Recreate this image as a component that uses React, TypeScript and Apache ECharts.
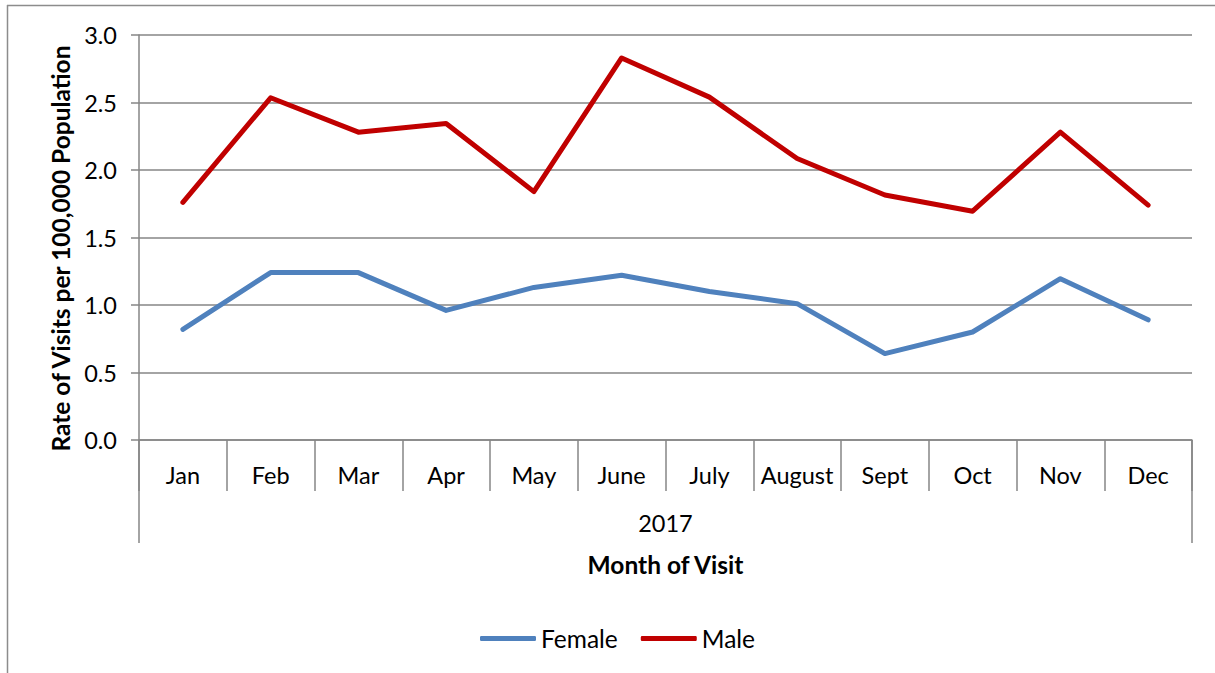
import React, { useEffect, useRef } from "react";
import * as echarts from "echarts";

const months = ["Jan", "Feb", "Mar", "Apr", "May", "June", "July", "August", "Sept", "Oct", "Nov", "Dec"];
const yearLabel = ["2017"];
const female = [0.82, 1.24, 1.24, 0.96, 1.13, 1.22, 1.10, 1.01, 0.64, 0.80, 1.195, 0.89];
const male = [1.76, 2.535, 2.28, 2.345, 1.84, 2.83, 2.54, 2.085, 1.815, 1.695, 2.28, 1.74];

const FONT = "Lato, 'Open Sans', sans-serif";
const GRAY = "#868686";
const LABEL_SIZE = 23.5;
const NAME_SIZE = 24.5;

export default function App() {
  const ref = useRef<HTMLDivElement>(null);
  useEffect(() => {
    document.body.style.margin = "0";
    const chart = echarts.init(ref.current!, null, { renderer: "svg" });
    chart.setOption({
      animation: false,
      backgroundColor: "#ffffff",
      textStyle: { fontFamily: FONT, color: "#000" },
      graphic: [
        { type: "line", shape: { x1: 7, y1: 5.5, x2: 1215, y2: 5.5 }, style: { stroke: "#8c8c8c", lineWidth: 1.5 } },
        { type: "line", shape: { x1: 7.5, y1: 5, x2: 7.5, y2: 673 }, style: { stroke: "#8c8c8c", lineWidth: 1.5 } },
      ],
      grid: { left: 139, right: 23, top: 35, bottom: 233, containLabel: false },
      legend: {
        top: 621,
        left: 475,
        padding: 5,
        itemWidth: 56,
        itemHeight: 5,
        itemGap: 23,
        icon: "roundRect",
        textStyle: { fontSize: 24.5, color: "#000", fontFamily: FONT, padding: [0, 0, 0, 0] },
        data: ["Female", "Male"],
      },
      xAxis: [
        {
          type: "category",
          data: months,
          boundaryGap: true,
          axisLine: { lineStyle: { color: GRAY, width: 1.5 } },
          axisTick: { show: true, length: 51, interval: 0, lineStyle: { color: GRAY, width: 1.5 } },
          axisLabel: { interval: 0, margin: 23, fontSize: LABEL_SIZE, color: "#000", fontFamily: FONT },
          splitLine: { show: false },
        },
        {
          type: "category",
          data: yearLabel,
          position: "bottom",
          boundaryGap: true,
          axisLine: { show: false },
          axisTick: { show: true, length: 103, lineStyle: { color: GRAY, width: 1.5 } },
          axisLabel: { margin: 71, fontSize: LABEL_SIZE, color: "#000", fontFamily: FONT },
          name: "Month of Visit",
          nameLocation: "middle",
          nameGap: 112,
          nameTextStyle: { fontSize: NAME_SIZE, fontWeight: "bold", color: "#000", fontFamily: FONT },
        },
      ],
      yAxis: {
        type: "value",
        min: 0,
        max: 3,
        interval: 0.5,
        axisLine: { show: true, lineStyle: { color: GRAY, width: 1.5 } },
        axisTick: { show: true, length: 8, lineStyle: { color: GRAY, width: 1.5 } },
        axisLabel: {
          margin: 22,
          fontSize: LABEL_SIZE,
          color: "#000",
          fontFamily: FONT,
          formatter: (v: number) => v.toFixed(1),
        },
        splitLine: { show: true, lineStyle: { color: GRAY, width: 1.5 } },
        name: "Rate of Visits per 100,000 Population",
        nameLocation: "middle",
        nameGap: 66,
        nameTextStyle: { fontSize: NAME_SIZE, fontWeight: "bold", color: "#000", fontFamily: FONT, padding: [0, 22, 0, 0] },
      },
      series: [
        {
          name: "Female",
          type: "line",
          data: female,
          showSymbol: false,
          symbol: "none",
          itemStyle: { color: "#4F81BD" },
          lineStyle: { color: "#4F81BD", width: 5, cap: "round", join: "round" },
        },
        {
          name: "Male",
          type: "line",
          data: male,
          showSymbol: false,
          symbol: "none",
          itemStyle: { color: "#C00000" },
          lineStyle: { color: "#C00000", width: 5, cap: "round", join: "round" },
        },
      ],
    });
    return () => chart.dispose();
  }, []);
  return <div ref={ref} style={{ width: 1215, height: 673, position: "absolute", left: 0, top: 0 }} />;
}
